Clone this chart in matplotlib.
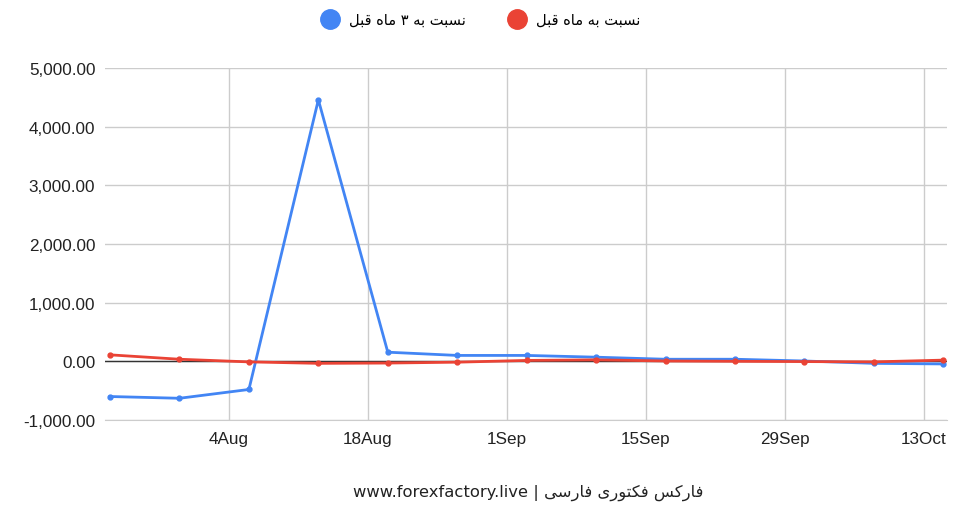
import matplotlib
matplotlib.use('Agg')
import matplotlib.pyplot as plt
import matplotlib.dates as mdates
from matplotlib.lines import Line2D
from matplotlib.ticker import FuncFormatter
import numpy as np

plt.rcParams['font.family'] = ['Liberation Sans', 'DejaVu Sans']

# ===================== 数据 =====================
dates = ['2021-07-23', '2021-07-30', '2021-08-06', '2021-08-13', '2021-08-20',
         '2021-08-27', '2021-09-03', '2021-09-10', '2021-09-17', '2021-09-24',
         '2021-10-01', '2021-10-08', '2021-10-15']
vs_3m = [-600, -630, -480, 4455, 155, 100, 100, 70, 35, 35, 5, -35, -45]
vs_1m = [110, 35, -10, -35, -30, -15, 15, 25, 5, 0, -5, -10, 20]
tick_dates = ['2021-08-04', '2021-08-18', '2021-09-01', '2021-09-15', '2021-09-29', '2021-10-13']

# 波斯文（预先整形为显示顺序的呈现形式）
label_1m = '\uFEDE\uFE92\uFED7 \uFEE9\uFE8E\uFEE3 \uFEEA\uFE91 \uFE96\uFE92\uFEB4\uFEE7'
label_3m = '\uFEDE\uFE92\uFED7 \uFEE9\uFE8E\uFEE3 \u06F3 \uFEEA\uFE91 \uFE96\uFE92\uFEB4\uFEE7'
footer = ('www.forexfactory.live | '
          '\uFBFD\uFEB3\uFEAD\uFE8E\uFED3 \uFBFC\uFEAD\uFEEE\uFE98\uFB91\uFED3 \uFEB2\uFB90\uFEAD\uFE8E\uFED3')

BLUE = '#4285F4'
RED = '#EA4335'

x = np.array(dates, dtype='datetime64[D]').astype('O')
ticks = np.array(tick_dates, dtype='datetime64[D]').astype('O')

fig = plt.figure(figsize=(9.55, 5.06), dpi=100)
ax = fig.add_axes([0.110, 0.168, 0.882, 0.696])

ax.plot(x, vs_3m, color=BLUE, lw=2, marker='o', ms=3.5, zorder=3)
ax.plot(x, vs_1m, color=RED, lw=2, marker='o', ms=3.5, zorder=4)
ax.axhline(0, color='#333333', lw=1, zorder=2)

ax.set_ylim(-1000, 5000)
ax.set_yticks(range(-1000, 5001, 1000))
ax.yaxis.set_major_formatter(FuncFormatter(lambda v, p: f'{v:,.2f}'))
ax.set_xlim(mdates.date2num(x[0]) - 0.5, mdates.date2num(x[-1]) + 0.4)
ax.set_xticks(ticks)
ax.set_xticklabels([f'{d.day}{d.strftime("%b")}' for d in ticks])

ax.grid(True, color='#cccccc', lw=1)
ax.set_axisbelow(True)
for s in ['top', 'right', 'left']:
    ax.spines[s].set_visible(False)
ax.spines['bottom'].set_color('#cccccc')
ax.tick_params(length=0, labelsize=12.3, colors='#222222')
ax.tick_params(axis='y', pad=7)
ax.tick_params(axis='x', pad=8)

handles = [Line2D([], [], ls='none', marker='o', ms=14, color=BLUE),
           Line2D([], [], ls='none', marker='o', ms=14, color=RED)]
fig.legend(handles, [label_3m, label_1m], loc='center', bbox_to_anchor=(0.5, 0.96),
           ncol=2, frameon=False, handletextpad=0.3, columnspacing=2.5,
           prop={'family': ['DejaVu Sans'], 'size': 10.5})

fig.text(0.553, 0.026, footer, ha='center', va='center', fontsize=11.8,
         family=['DejaVu Sans'], color='#222222')

fig.savefig('out.png', dpi=100)
